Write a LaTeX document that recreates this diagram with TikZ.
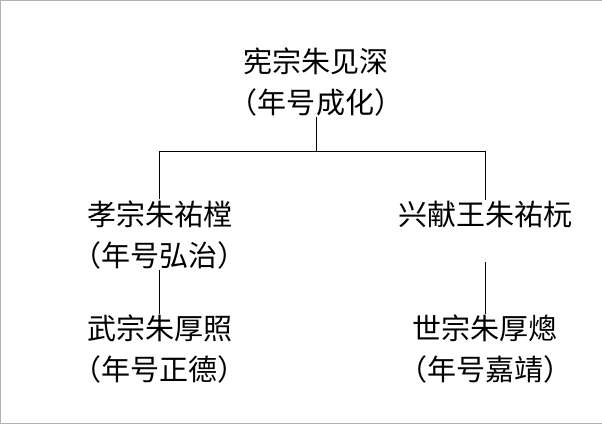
\documentclass[tikz,border=0pt]{standalone}
\usepackage{fontspec}
\setmainfont{Noto Sans CJK SC}
\begin{document}
\begin{tikzpicture}[x=1pt,y=1pt]
	\tikzstyle{every node}+=[align=center,inner sep=1pt,font=\fontsize{29}{41}\selectfont]
	\draw[gray!60,fill=white] (0.5,-0.5) rectangle (601.5,-423.5);
	\node (xian) at (316,-82) {宪宗朱见深\\（年号成化）};
	\node (xiao) at (160,-235) {孝宗朱祐樘\\（年号弘治）};
	\node (xing) at (485,-215) {兴献王朱祐杬};
	\node (wu) at (160,-349) {武宗朱厚照\\（年号正德）};
	\node (shi) at (485,-349) {世宗朱厚熜\\（年号嘉靖）};
	\coordinate (j) at (316,-152);
	\tikzstyle{every path}+=[thick]
	\draw (xian) -- (j);
	\draw (xiao.north) |- (j) -| (xing.north);
	\draw (xiao) -- (wu);
	\path (xing.south) ++(0,-32) coordinate (k);
	\draw (k) -- (shi);
\end{tikzpicture}
\end{document}
